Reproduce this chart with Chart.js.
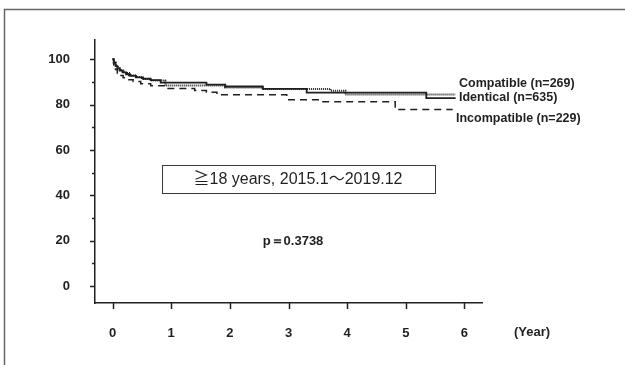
<!DOCTYPE html>
<html>
<head>
<meta charset="utf-8">
<script src="https://cdn.jsdelivr.net/npm/chart.js@4/dist/chart.umd.min.js"></script>
<style>
  html, body { margin: 0; padding: 0; background: #fff; }
  #wrap { width: 625px; height: 365px; position: relative; }
</style>
</head>
<body>
<div id="wrap"><canvas id="km" width="625" height="365"></canvas></div>
<script>
// Kaplan-Meier survival by HLA compatibility group
const yearTicks = [0, 1, 2, 3, 4, 5, 6];
const survivalTicks = [0, 20, 40, 60, 80, 100];
const survivalMinorTicks = [10, 30, 50, 70, 90];
const seriesNames = ['Compatible (n=269)', 'Identical (n=635)', 'Incompatible (n=229)'];

const compatibleYears    = [0, 0.02, 0.05, 0.09, 0.14, 0.2, 0.28, 0.38, 0.5, 0.65, 0.9, 1.92, 2.56, 3.72, 3.97, 5.85];
const compatibleSurvival = [100, 98.6, 97.2, 96, 95, 94, 93, 92.2, 91.3, 90.6, 88.4, 87.6, 86.9, 86.1, 84.5, 84.5];

const identicalYears    = [0, 0.02, 0.05, 0.08, 0.12, 0.17, 0.23, 0.3, 0.4, 0.52, 0.65, 0.82, 1.6, 1.92, 2.56, 3.31, 5.35, 5.85];
const identicalSurvival = [100, 98.5, 97, 96, 95, 94.2, 93.4, 92.7, 92, 91.4, 90.8, 89.7, 88.8, 88.0, 86.9, 85.3, 82.9, 82.9];

const incompatibleYears    = [0, 0.02, 0.05, 0.08, 0.12, 0.18, 0.25, 0.35, 0.48, 0.65, 0.9, 1.4, 1.6, 1.78, 2.97, 3.55, 4.82, 5.8];
const incompatibleSurvival = [100, 97.5, 95.5, 94, 92.8, 91.8, 91, 90.2, 89.2, 88.3, 87.1, 86.2, 85.4, 84.3, 82.1, 81.3, 77.8, 77.8];

const INK = '#231f20';
const FAMILY = '"Liberation Sans", Arial, sans-serif';
const BOLD = 'bold 13px ' + FAMILY;

function pts(xs, ys) { return xs.map((x, i) => ({ x: x, y: ys[i] })); }

const overlay = {
  id: 'overlay',
  afterDraw(chart) {
    const ctx = chart.ctx;
    const xs = chart.scales.x, ys = chart.scales.y;
    const axX = chart.chartArea.left, axY = chart.chartArea.bottom;
    ctx.save();
    ctx.strokeStyle = INK;
    ctx.lineWidth = 1.5;
    // y tick marks (major and minor), pointing outward
    survivalTicks.forEach(v => {
      const p = Math.round(ys.getPixelForValue(v)) + 0.5;
      ctx.beginPath(); ctx.moveTo(axX - 5, p); ctx.lineTo(axX, p); ctx.stroke();
    });
    survivalMinorTicks.forEach(v => {
      const p = Math.round(ys.getPixelForValue(v)) + 0.5;
      ctx.beginPath(); ctx.moveTo(axX - 3, p); ctx.lineTo(axX, p); ctx.stroke();
    });
    // x tick marks
    yearTicks.forEach(v => {
      const p = Math.round(xs.getPixelForValue(v)) + 0.5;
      ctx.beginPath(); ctx.moveTo(p, axY); ctx.lineTo(p, axY + 6); ctx.stroke();
    });

    // axis unit
    ctx.fillStyle = INK;
    ctx.font = BOLD;
    ctx.textAlign = 'center';
    ctx.textBaseline = 'middle';
    ctx.fillText('(Year)', 532, 332);

    // curve labels
    ctx.font = 'bold 12.5px ' + FAMILY;
    ctx.textAlign = 'left';
    ctx.fillText(seriesNames[0], 459, 84);
    ctx.fillText(seriesNames[1], 459, 98);
    ctx.fillText(seriesNames[2], 456, 118.5);

    // cohort box
    ctx.lineWidth = 1;
    ctx.strokeStyle = '#3a3a3a';
    ctx.strokeRect(162.5, 165.5, 273, 28);
    ctx.font = '16px "Liberation Sans", "Noto Sans CJK JP", sans-serif';
    ctx.textAlign = 'center';
    ctx.fillText('≧18 years, 2015.1～2019.12', 298, 180);

    // log-rank p value
    ctx.font = BOLD;
    ctx.fillText('p＝0.3738', 293, 241);

    // page frame
    ctx.strokeStyle = '#666';
    ctx.lineWidth = 1.5;
    ctx.beginPath();
    ctx.moveTo(4.5, 365); ctx.lineTo(4.5, 9.5); ctx.lineTo(626, 9.5);
    ctx.stroke();
    ctx.restore();
  }
};

new Chart(document.getElementById('km'), {
  type: 'line',
  data: {
    datasets: [
      { label: seriesNames[0], data: pts(compatibleYears, compatibleSurvival),
        borderColor: INK, borderWidth: 2, borderDash: [1, 1], stepped: true, pointRadius: 0, fill: false },
      { label: seriesNames[1], data: pts(identicalYears, identicalSurvival),
        borderColor: INK, borderWidth: 1.8, stepped: true, pointRadius: 0, fill: false },
      { label: seriesNames[2], data: pts(incompatibleYears, incompatibleSurvival),
        borderColor: INK, borderWidth: 1.5, borderDash: [7, 5], stepped: true, pointRadius: 0, fill: false }
    ]
  },
  options: {
    responsive: false,
    devicePixelRatio: 1,
    animation: false,
    layout: { padding: { left: 0, top: 40, right: 143, bottom: 0 } },
    plugins: { legend: { display: false }, tooltip: { enabled: false } },
    scales: {
      x: {
        type: 'linear', min: -0.3, max: 6.3,
        afterBuildTicks: s => { s.ticks = yearTicks.map(v => ({ value: v })); },
        afterFit: s => { s.height = 62; },
        grid: { display: false },
        border: { display: true, color: INK, width: 1.5 },
        ticks: { color: INK, font: { family: FAMILY, size: 13, weight: 'bold' }, padding: 15, maxRotation: 0 }
      },
      y: {
        type: 'linear', min: -7.5, max: 108.5,
        afterBuildTicks: s => { s.ticks = survivalTicks.map(v => ({ value: v })); },
        afterFit: s => { s.width = 95; },
        grid: { display: false },
        border: { display: true, color: INK, width: 1.5 },
        ticks: { color: INK, font: { family: FAMILY, size: 13, weight: 'bold' }, padding: 17 }
      }
    }
  },
  plugins: [overlay]
});
</script>
</body>
</html>
